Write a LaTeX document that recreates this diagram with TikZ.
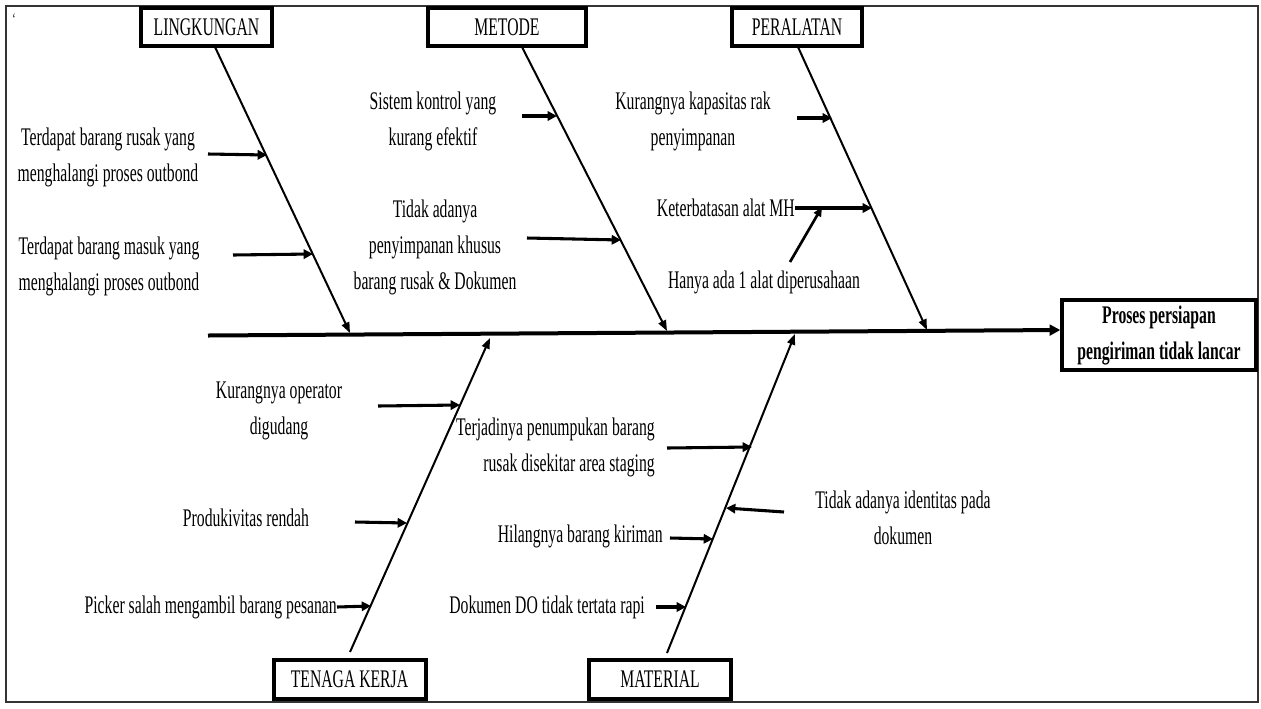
\documentclass[tikz,border=0pt]{standalone}
\usepackage{fontspec}
\setmainfont{Liberation Serif}[FakeStretch=0.62]
\usetikzlibrary{arrows.meta}
\begin{document}
\begin{tikzpicture}[x=0.75pt,y=-0.75pt,
  txt/.style={font=\fontsize{19}{27}\selectfont, inner sep=0pt, align=center},
  catbox/.style={draw, line width=3pt, inner sep=0pt, font=\fontsize{19}{27}\selectfont, minimum height=28pt},
  bone/.style={line width=1.5pt, -{Triangle[length=8pt,width=6pt]}},
  sub/.style={line width=2.3pt, -{Triangle[length=7pt,width=7pt]}},
  spine/.style={line width=3pt, -{Triangle[length=8pt,width=8pt]}}]
\useasboundingbox (0,0) rectangle (1261,708);
\draw[line width=1.5pt, black!80] (6,6) rectangle (1258,702);
\node[txt, font=\fontsize{12}{14}\selectfont] (tick) at (14,19) {\symbol{96}};

% category boxes
\node[catbox, minimum width=98pt] (lingk) at (206.5,27) {LINGKUNGAN};
\node[catbox, minimum width=119pt] (metode) at (507,27) {METODE};
\node[catbox, minimum width=97pt] (peral) at (797,27) {PERALATAN};
\node[catbox, minimum width=114pt, minimum height=29pt] (tenaga) at (349.5,679.5) {TENAGA KERJA};
\node[catbox, minimum width=106pt, minimum height=29pt] (material) at (660,679.5) {MATERIAL};
\node[catbox, minimum width=145pt, minimum height=53pt, font=\fontsize{19}{27}\selectfont\bfseries, align=center] (effect) at (1159,335) {Proses persiapan\\pengiriman tidak lancar};

% spine
\coordinate (sp0) at (208,335.5);
\draw[spine] (sp0) -- ([yshift=3.75pt]effect.west);

% bones
\coordinate (l0) at (215,47);  \coordinate (l1) at (350,333);
\coordinate (m0) at (522,47);  \coordinate (m1) at (667,331);
\coordinate (p0) at (798,47);  \coordinate (p1) at (927,330);
\coordinate (t0) at (350,652); \coordinate (t1) at (490,338);
\coordinate (a0) at (667,653); \coordinate (a1) at (795,334);
\draw[bone] (l0) -- (l1);
\draw[bone] (m0) -- (m1);
\draw[bone] (p0) -- (p1);
\draw[bone] (t0) -- (t1);
\draw[bone] (a0) -- (a1);

% cause texts
\node[txt] (tl1) at (108,157) {Terdapat barang rusak yang\\menghalangi proses outbond};
\node[txt] (tl2) at (109,266) {Terdapat barang masuk yang\\menghalangi proses outbond};
\node[txt] (tm1) at (433,121) {Sistem kontrol yang\\kurang efektif};
\node[txt] (tm2) at (435,247) {Tidak adanya\\penyimpanan khusus\\barang rusak \& Dokumen};
\node[txt] (tp1) at (693,121) {Kurangnya kapasitas rak\\penyimpanan};
\node[txt, anchor=east] (tp2) at (795,208) {Keterbatasan alat MH};
\node[txt] (tp3) at (764,282) {Hanya ada 1 alat diperusahaan};
\node[txt] (tt1) at (279,411) {Kurangnya operator\\digudang};
\node[txt] (tt2) at (246,518) {Produkivitas rendah};
\node[txt, anchor=east] (tt3) at (337,607) {Picker salah mengambil barang pesanan};
\node[txt, anchor=east, align=right] (ta1) at (655,447) {Terjadinya penumpukan barang\\rusak disekitar area staging};
\node[txt] (ta2) at (903,518) {Tidak adanya identitas pada\\dokumen};
\node[txt, anchor=east] (ta3) at (663,536) {Hilangnya barang kiriman};
\node[txt, anchor=east] (ta4) at (645,607) {Dokumen DO tidak tertata rapi};

% sub arrows
\coordinate (sl1) at (208,154); \coordinate (el1) at (267,155);
\coordinate (sl2) at (233,255); \coordinate (el2) at (313,254);
\coordinate (sm1) at (522,116); \coordinate (em1) at (557,116);
\coordinate (sm2) at (527,238); \coordinate (em2) at (621,240);
\coordinate (sp1) at (797,118); \coordinate (ep1) at (832,118);
\coordinate (ep2) at (872,208);
\coordinate (sp3) at (790,262); \coordinate (ep3) at (822,207);
\coordinate (st1) at (378,406); \coordinate (et1) at (460,405);
\coordinate (st2) at (355,522); \coordinate (et2) at (407,523);
\coordinate (et3) at (371,606);
\coordinate (sa1) at (667,448); \coordinate (ea1) at (752,447);
\coordinate (sa2) at (784,512); \coordinate (ea2) at (726,508);
\coordinate (sa3) at (670,538); \coordinate (ea3) at (713,539);
\coordinate (sa4) at (656,607); \coordinate (ea4) at (686,607);

\draw[sub] (sl1) -- (el1);
\draw[sub] (sl2) -- (el2);
\draw[sub] (sm1) -- (em1);
\draw[sub] (sm2) -- (em2);
\draw[sub] (sp1) -- (ep1);
\draw[sub] (tp2.east) -- (ep2);
\draw[line width=2pt, -{Triangle[length=7pt,width=6pt]}] (sp3) -- (ep3);
\draw[sub] (st1) -- (et1);
\draw[sub] (st2) -- (et2);
\draw[sub] (tt3.east) -- (et3);
\draw[sub] (sa1) -- (ea1);
\draw[sub] (sa2) -- (ea2);
\draw[sub] (sa3) -- (ea3);
\draw[sub] (sa4) -- (ea4);
\end{tikzpicture}
\end{document}
